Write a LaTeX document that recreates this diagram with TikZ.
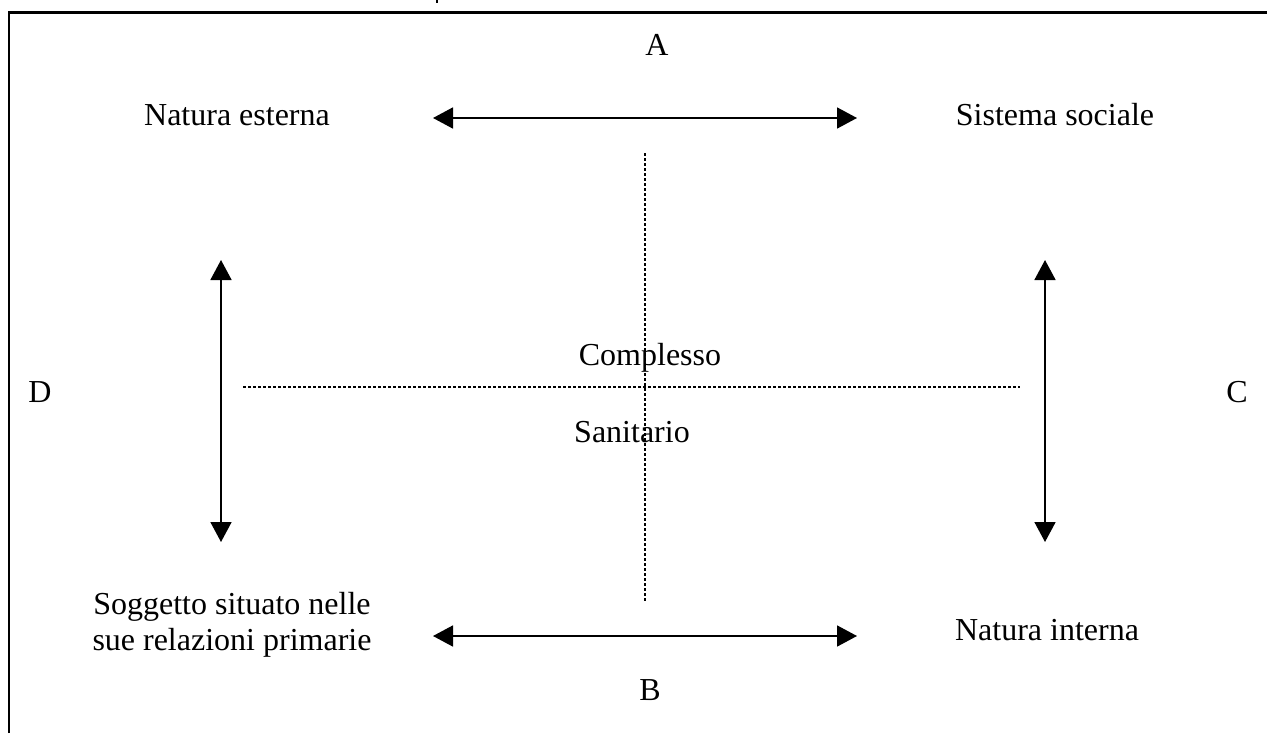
\documentclass[tikz,border=0pt]{standalone}
\usepackage{fontspec}
\setmainfont{Liberation Serif}
\usetikzlibrary{arrows.meta}

\tikzset{
  label/.style={font=\fontsize{16}{18}\selectfont, align=center, inner sep=0pt},
  relation/.style={line width=0.85pt, {Triangle[length=10pt,width=10.5pt]}-{Triangle[length=10pt,width=10.5pt]}},
  axis/.style={line width=1.4pt, dash pattern=on 1.4pt off 1.1pt}
}

\begin{document}
\begin{tikzpicture}[x=0.5pt, y=-0.5pt]
\useasboundingbox (0,0) rectangle (1267,733);

% Frame
\draw[line width=1.2pt] (9,733) -- (9,12.5) -- (1267,12.5);
\draw[line width=1pt] (437,0) -- (437,3);

% Letters
\node[label] (A) at (657,45) {A};
\node[label] (B) at (650,690) {B};
\node[label] (C) at (1237,392) {C};
\node[label] (D) at (40,392) {D};

% Poles
\node[label] (ext) at (237,115) {Natura esterna};
\node[label] (soc) at (1055,115) {Sistema sociale};
\node[label] (sog) at (232,625) {Soggetto situato nelle\\sue relazioni primarie};
\node[label] (int) at (1047,630) {Natura interna};

% Centre
\node[label] (com) at (650,358) {Complesso};
\node[label] (san) at (632,432) {Sanitario};

% Axes
\coordinate (vtop) at (645,153);
\coordinate (vbot) at (645,602);
\coordinate (hlft) at (243,387);
\coordinate (hrgt) at (1020,387);
\draw[axis] (vtop) -- (vbot);
\draw[axis] (hlft) -- (hrgt);

% Relations
\coordinate (a1) at (433,118);
\coordinate (a2) at (857,118);
\coordinate (b1) at (433,636);
\coordinate (b2) at (857,636);
\coordinate (d1) at (221,260);
\coordinate (d2) at (221,542);
\coordinate (c1) at (1045,260);
\coordinate (c2) at (1045,542);
\draw[relation] (a1) -- (a2);
\draw[relation] (b1) -- (b2);
\draw[relation] (d1) -- (d2);
\draw[relation] (c1) -- (c2);
\end{tikzpicture}
\end{document}
